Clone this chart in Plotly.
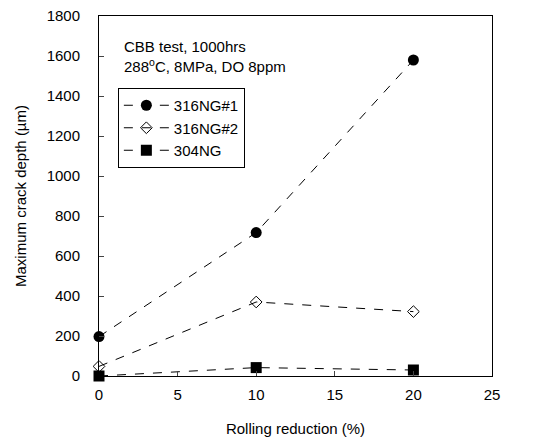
import plotly.graph_objects as go

x_vals = [0, 10, 20]
s1_name = "316NG#1"
s1 = [197, 717, 1580]
s2_name = "316NG#2"
s2 = [48, 370, 322]
s3_name = "304NG"
s3 = [0, 42, 30]

fig = go.Figure()
fig.add_trace(go.Scatter(x=x_vals, y=s1, name=s1_name, mode="lines+markers",
                         line=dict(color="black", width=1, dash="dash"),
                         marker=dict(symbol="circle", size=11, color="black"), cliponaxis=False))
fig.add_trace(go.Scatter(x=x_vals, y=s2, name=s2_name, mode="lines+markers",
                         line=dict(color="black", width=1, dash="dash"),
                         marker=dict(symbol="diamond-open", size=9, color="black", line=dict(width=1)), cliponaxis=False))
fig.add_trace(go.Scatter(x=x_vals, y=s3, name=s3_name, mode="lines+markers",
                         line=dict(color="black", width=1, dash="dash"),
                         marker=dict(symbol="square", size=11, color="black"), cliponaxis=False))

fam = "Liberation Sans, Arial"
font = dict(family=fam, size=15, color="black")
fig.update_layout(
    width=539, height=439,
    margin=dict(l=99, r=47, t=16, b=63),
    paper_bgcolor="white", plot_bgcolor="white",
    font=font,
    showlegend=True,
    legend=dict(x=0.048, y=0.80, xanchor="left", yanchor="top",
                bordercolor="black", borderwidth=1, bgcolor="white",
                font=dict(family=fam, size=15, color="black"),
                itemwidth=45, tracegroupgap=0),
    xaxis=dict(range=[0, 25], tickvals=[0, 5, 10, 15, 20, 25], ticks="inside", ticklen=5,
               showline=True, linecolor="black", linewidth=1, mirror=True, showgrid=False,
               zeroline=False, tickfont=font, ticklabelstandoff=5, automargin=False,
               title=dict(text="Rolling reduction (%)", font=font, standoff=21)),
    yaxis=dict(range=[0, 1800], tickvals=list(range(0, 1801, 200)), ticks="inside", ticklen=5,
               showline=True, linecolor="black", linewidth=1, mirror=True, showgrid=False,
               zeroline=False, tickfont=font, ticklabelstandoff=15, automargin=False,
               title=dict(text="Maximum crack depth (µm)", font=font, standoff=16)),
    annotations=[
        dict(x=0.0585, y=0.915, xref="paper", yref="paper", xanchor="left", yanchor="middle",
             text="CBB test, 1000hrs", showarrow=False,
             align="left", font=dict(family=fam, size=15, color="black")),
        dict(x=0.0585, y=0.862, xref="paper", yref="paper", xanchor="left", yanchor="middle",
             text="288<sup>o</sup>C, 8MPa, DO 8ppm", showarrow=False,
             align="left", font=dict(family=fam, size=15, color="black")),
    ],
)
fig.write_html("out.html")
